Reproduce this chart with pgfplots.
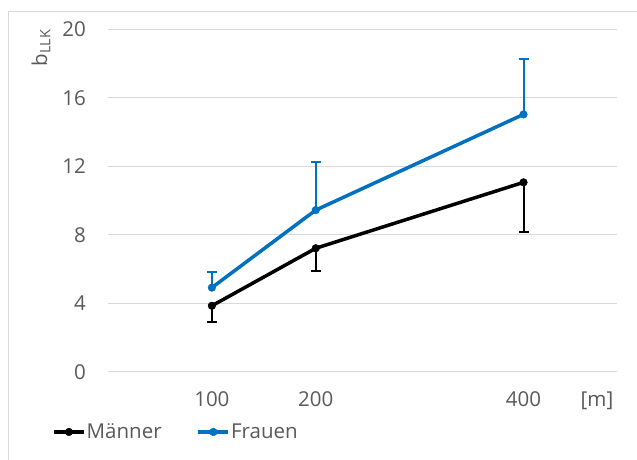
\documentclass[border=0pt]{standalone}
\usepackage{pgfplots}
\pgfplotsset{compat=1.18}
\usepackage{fontspec}
\setmainfont{Open Sans}
\definecolor{txt}{HTML}{595959}
\definecolor{grd}{HTML}{D9D9D9}
\definecolor{blu}{HTML}{0070C0}
\begin{document}
\begin{tikzpicture}[font=\fontsize{20.5pt}{24pt}\selectfont]
\path[use as bounding box] (0,0) rectangle (637pt,460pt);
\draw[grd, line width=1pt] (8pt,0) -- (8pt,448pt) -- (637pt,448pt);
\begin{axis}[
  at={(108pt,88.3pt)}, anchor=south west,
  scale only axis, width=509pt, height=342.4pt,
  xmin=0, xmax=490, ymin=0, ymax=20,
  xtick={100,200,400}, ytick={0,4,8,12,16,20},
  ymajorgrids, grid style={grd, line width=1pt},
  axis line style={draw=none},
  major tick length=0pt,
  /pgf/number format/assume math mode=true,
  tick label style={font=\fontsize{20.5pt}{24pt}\selectfont, text=txt},
  xticklabel style={anchor=base, yshift=-35.3pt, inner sep=0pt},
  yticklabel style={anchor=east, xshift=-22pt, inner sep=0pt},
  legend columns=2,
  legend style={at={(-0.110,-0.176)}, anchor=west, draw=none, fill=none,
    inner sep=0pt, font=\fontsize{20.5pt}{24pt}\selectfont, text=txt,
    nodes={inner sep=1pt},
    /tikz/every even column/.append style={column sep=34pt}},
  legend image code/.code={\draw[mark repeat=2,mark phase=2,#1] plot coordinates {(0pt,0pt)(15pt,0pt)(30pt,0pt)};},
]
\addplot[black, line width=3.5pt, line join=round, mark=*, mark size=3.8pt, mark options={solid, line width=0.5pt},
  error bars/.cd, y dir=minus, y explicit, error mark=|,
  error bar style={line width=2pt, black},
  error mark options={line width=2pt, mark size=5pt, black}]
  coordinates {(100,3.85) +- (0,0.96) (200,7.21) +- (0,1.33) (400,11.06) +- (0,2.90)};
\addlegendentry{Männer}
\addplot[blu, line width=3.5pt, line join=round, mark=*, mark size=3.8pt, mark options={solid, line width=0.5pt},
  error bars/.cd, y dir=plus, y explicit, error mark=|,
  error bar style={line width=2pt, blu},
  error mark options={line width=2pt, mark size=5pt, blu}]
  coordinates {(100,4.91) +- (0,0.93) (200,9.44) +- (0,2.79) (400,15.03) +- (0,3.23)};
\addlegendentry{Frauen}
\end{axis}
\node[anchor=base, text=txt, inner sep=0pt] at (597pt,53pt) {[m]};
\node[rotate=90, text=txt, inner sep=0pt] at (41pt,412pt) {b\textsubscript{LLK}};
\end{tikzpicture}
\end{document}
